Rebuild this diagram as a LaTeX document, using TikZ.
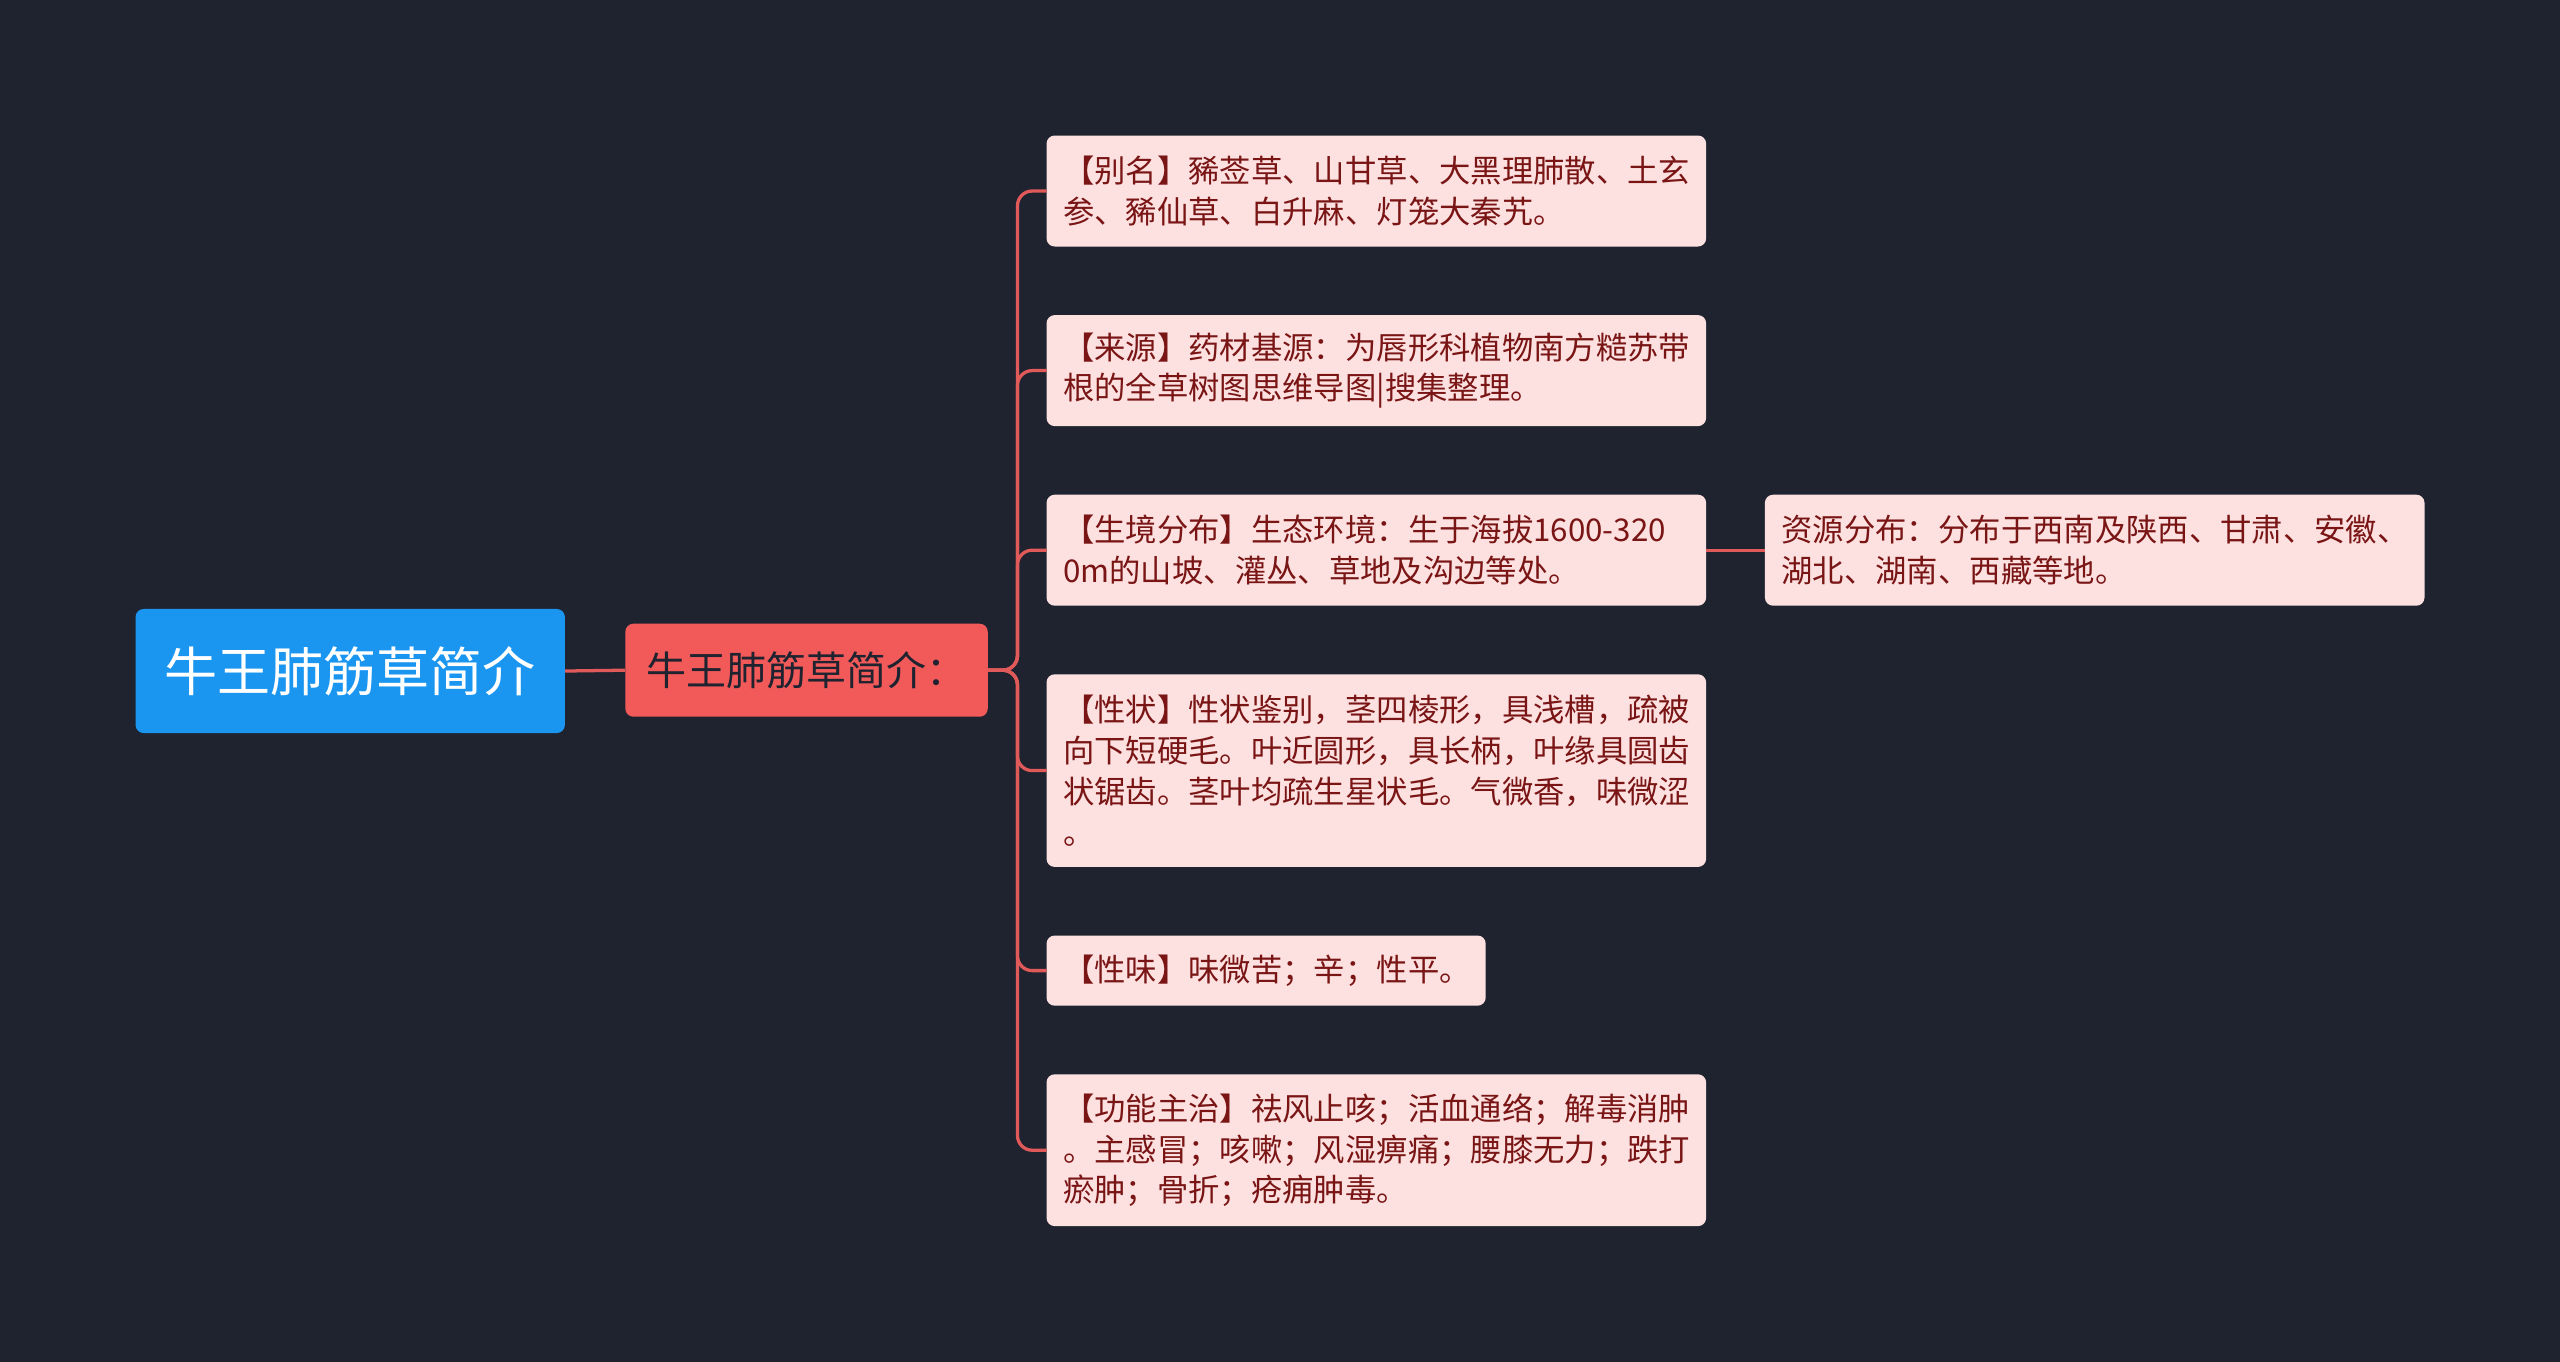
\documentclass[tikz,border=0pt]{standalone}
\usepackage{fontspec}
\setmainfont{Noto Sans CJK SC}
\definecolor{bg}{HTML}{1F2330}
\definecolor{rootc}{HTML}{1A96F0}
\definecolor{l1c}{HTML}{F25A5A}
\definecolor{leafc}{HTML}{FDE1E1}
\definecolor{leaft}{HTML}{7A1515}
\definecolor{linec}{HTML}{E05A5A}
\tikzset{
 conn/.style={draw=linec,line width=2pt,rounded corners=9pt}
}
\begin{document}
\begin{tikzpicture}[x=1pt,y=-1pt]
\fill[bg] (0,0) rectangle (1568,834);
\useasboundingbox (0,0) rectangle (1568,834);
\node[fill=rootc,rounded corners=5pt,minimum width=263pt,minimum height=76pt,text=white,font=\fontsize{32.5}{36}\selectfont] (root) at (214.5,411) {牛王肺筋草简介};
\node[fill=l1c,rounded corners=5pt,minimum width=222pt,minimum height=57pt,text=bg,font=\fontsize{24.5}{28}\selectfont] (l1) at (494,410.5) {牛王肺筋草简介：};
\newcommand{\leafbox}[6]{%
 \fill[leafc,rounded corners=5pt] (#2,#3) rectangle (#4,#5);
 \node[anchor=west,inner sep=0pt,text=leaft,font=\fontsize{19.2}{25}\selectfont,align=left] at (#2+10,{(#3+#5)/2}) {#6};
 \coordinate (#1) at (#2,{(#3+#5)/2});}
\leafbox{a}{641}{83}{1045}{151}{【别名】豨莶草、山甘草、大黑理肺散、土玄\\参、豨仙草、白升麻、灯笼大秦艽。}
\leafbox{b}{641}{193}{1045}{261}{【来源】药材基源：为唇形科植物南方糙苏带\\根的全草树图思维导图|搜集整理。}
\leafbox{c}{641}{303}{1045}{371}{【生境分布】生态环境：生于海拔1600-320\\0m的山坡、灌丛、草地及沟边等处。}
\leafbox{d}{641}{413}{1045}{531}{【性状】性状鉴别，茎四棱形，具浅槽，疏被\\向下短硬毛。叶近圆形，具长柄，叶缘具圆齿\\状锯齿。茎叶均疏生星状毛。气微香，味微涩\\。}
\leafbox{e}{641}{573}{910}{616}{【性味】味微苦；辛；性平。}
\leafbox{f}{641}{658}{1045}{751}{【功能主治】祛风止咳；活血通络；解毒消肿\\。主感冒；咳嗽；风湿痹痛；腰膝无力；跌打\\瘀肿；骨折；疮痈肿毒。}
\leafbox{g}{1081}{303}{1485}{371}{资源分布：分布于西南及陕西、甘肃、安徽、\\湖北、湖南、西藏等地。}
\draw[conn] (root.east) -- (l1.west);
\foreach \t in {a,b,c,d,e,f}{\draw[conn] (l1.east) -- ++(18,0) |- (\t);}
\draw[conn] (1045,337) -- (g);
\end{tikzpicture}
\end{document}
